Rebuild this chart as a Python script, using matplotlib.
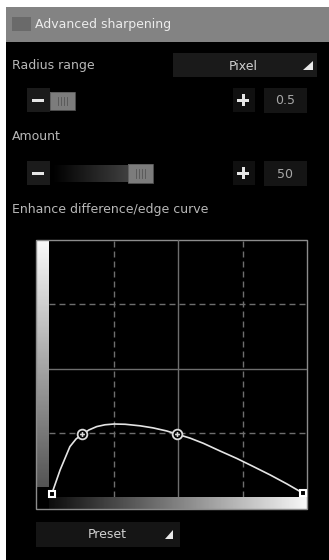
import numpy as np
import matplotlib
matplotlib.use('Agg')
import matplotlib.pyplot as plt
from matplotlib.patches import Rectangle, Polygon

# 面板文字
title = 'Advanced sharpening'
radius_label = 'Radius range'
radius_unit = 'Pixel'
radius_value = '0.5'
amount_label = 'Amount'
amount_value = '50'
curve_label = 'Enhance difference/edge curve'
preset_label = 'Preset'

# 曲线控制点 (0-100)
ctrl_x = [1, 12.9, 49.5, 98.6]
ctrl_y = [1, 24.4, 24.5, 1.4]

# 曲线读数 (0-100)
curve_x = [1, 4.3, 8.1, 10.5, 12.9, 15.5, 18.5, 21.7, 25.2, 29.5, 35.3, 40.3,
           45.6, 49.5, 54.7, 59.8, 66.3, 72.8, 79.1, 85.7, 92.2, 98.6]
curve_y = [1, 10.5, 19.6, 22.6, 24.4, 26.1, 27.4, 28.1, 28.4, 28.3, 27.7, 26.9,
           25.7, 24.5, 22.9, 20.9, 17.9, 15.0, 11.9, 8.6, 5.1, 1.4]

grid_pos = [25, 50, 75]

W, H = 329, 560
fig = plt.figure(figsize=(W / 100, H / 100), dpi=100, facecolor='white')

# 背景坐标系,按像素布局
bg = fig.add_axes([0, 0, 1, 1])
bg.axis('off')

def rect(x0, y0, x1, y1, color, **kw):
    bg.add_patch(Rectangle((x0, y0), x1 - x0, y1 - y0, facecolor=color, edgecolor='none', **kw))

def gradient(arr, extent):
    bg.imshow(arr, cmap='gray', vmin=0, vmax=1, extent=extent,
              origin='upper', aspect='auto', zorder=2)

rect(6, 7, W, H, 'black')
rect(6, 7, W, 42, '#838383')
rect(12, 17, 31, 31, '#6a6a6a')
txt = dict(fontsize=9, family='DejaVu Sans', va='center')
bg.text(35, 24.5, title, color='#ececec', **txt)

# Radius range
bg.text(12, 66, radius_label, color='#b8b8b8', **txt)
rect(173, 53, 317, 77, '#1a1a1a')
bg.text(243, 66, radius_unit, color='#d0d0d0', ha='center', **txt)
bg.add_patch(Polygon([(313, 61), (313, 70), (303, 70)], facecolor='#e8e8e8'))

def minus_plus(yc):
    rect(27, yc - 12, 50, yc + 12, '#1b1b1b')
    rect(32, yc - 1.5, 44, yc + 1.5, '#e6e6e6')
    rect(233, yc - 12, 255, yc + 12, '#101010')
    rect(237, yc - 1.5, 249, yc + 1.5, '#e6e6e6')
    rect(241.5, yc - 6, 244.5, yc + 6, '#e6e6e6')
    rect(264, yc - 12, 307, yc + 13, '#151515')

def thumb(x0, x1, y0, y1):
    rect(x0, y0, x1, y1, '#7c7c7c', zorder=3)
    bg.add_patch(Rectangle((x0, y0), x1 - x0, y1 - y0, facecolor='none',
                           edgecolor='#5a5a5a', lw=0.6, zorder=3))
    xc = (x0 + x1) / 2
    for dx in (-4.5, -1.5, 1.5, 4.5):
        bg.plot([xc + dx, xc + dx], [y0 + 5, y1 - 5], color='#555555', lw=0.6, zorder=4)

minus_plus(100)
thumb(50, 75, 92, 110)
bg.text(285, 101, radius_value, color='#a8a8a8', ha='center', **txt)

# Amount
bg.text(12, 137, amount_label, color='#b8b8b8', **txt)
minus_plus(173)
gradient(np.linspace(0.0, 0.33, 200)[None, :], (52, 153, 182, 165))
thumb(128, 153, 164, 183)
bg.text(285, 174, amount_value, color='#a8a8a8', ha='center', **txt)

# Curve
bg.text(12, 209, curve_label, color='#b8b8b8', **txt)
gradient(np.linspace(0.98, 0.33, 200)[:, None], (36, 49, 487, 240))
gradient(np.linspace(0.05, 0.97, 300)[None, :], (49, 307, 509, 497))
bg.add_patch(Rectangle((36, 239.5), 271, 269.5, facecolor='none', edgecolor='#8c8c8c',
                       lw=1, zorder=3))

# Preset
rect(36, 522, 180, 547, '#151515')
bg.text(107, 535, preset_label, color='#d0d0d0', ha='center', **txt)
bg.add_patch(Polygon([(173, 530), (173, 539), (165, 539)], facecolor='#e8e8e8'))

bg.set_xlim(0, W)
bg.set_ylim(H, 0)

# 曲线坐标系
ax = fig.add_axes([49 / W, (H - 497) / H, 258 / W, 257 / H])
ax.set_facecolor('none')
for s in ax.spines.values():
    s.set_visible(False)
ax.set_xticks([])
ax.set_yticks([])
ax.set_xlim(0, 100)
ax.set_ylim(0, 100)
for p in grid_pos:
    ls = '-' if p == 50 else (0, (4.3, 2.9))
    ax.axvline(p, color='#6e6e6e', lw=1, ls=ls)
    ax.axhline(p, color='#6e6e6e', lw=1, ls=ls)

ax.plot(curve_x, curve_y, color='#e4e4e4', lw=1.2, clip_on=False, zorder=3)
ends = [0, 3]
mids = [1, 2]
ax.plot([ctrl_x[i] for i in ends], [ctrl_y[i] for i in ends], 's', ms=5, mfc='black',
        mec='white', mew=1.5, clip_on=False, zorder=4)
ax.plot([ctrl_x[i] for i in mids], [ctrl_y[i] for i in mids], 'o', ms=7, mfc='black',
        mec='#dcdcdc', mew=1.3, clip_on=False, zorder=4)
ax.plot([ctrl_x[i] for i in mids], [ctrl_y[i] for i in mids], 'P', ms=3.5, mfc='#dcdcdc',
        mec='none', clip_on=False, zorder=5)

fig.savefig('out.png', dpi=100, facecolor='white')
